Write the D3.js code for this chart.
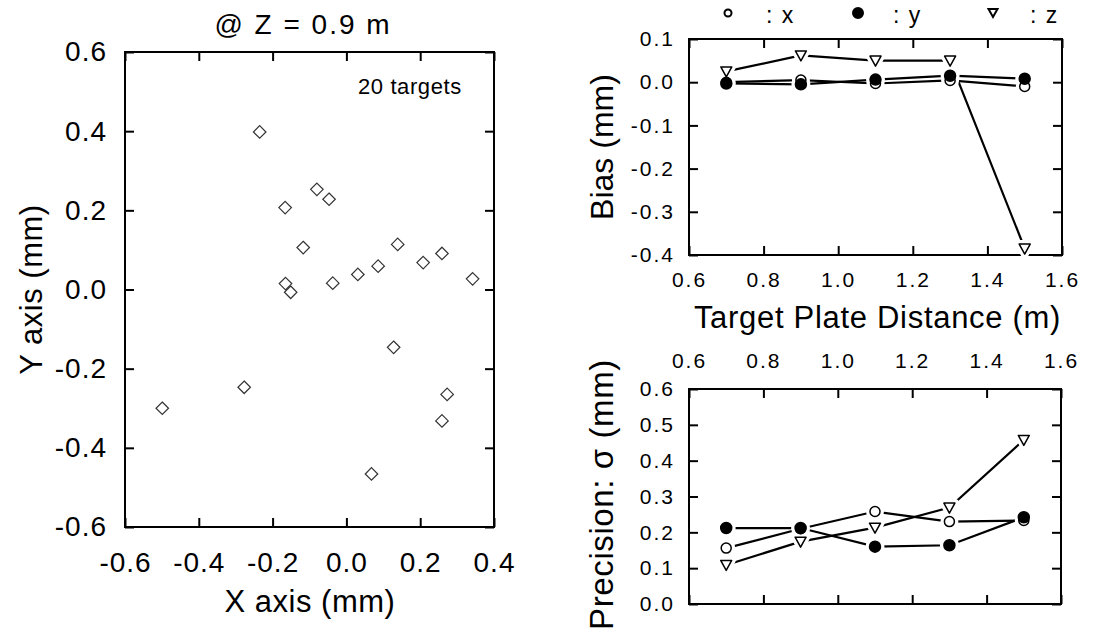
<!DOCTYPE html>
<html>
<head>
<meta charset="utf-8">
<style>
  body { margin: 0; background: #fff; }
  text { font-family: "Liberation Sans", Arial, sans-serif; fill: #000; }
</style>
</head>
<body>
<svg id="chart" width="1109" height="632"></svg>
<script src="https://cdn.jsdelivr.net/npm/d3@7"></script>
<script>
// scatter of 20 targets at Z = 0.9 m
let targetX = [-0.235, -0.166, -0.080, -0.047, -0.117, -0.165, -0.151, -0.037, 0.031, 0.086,
               0.139, 0.208, 0.259, 0.342, 0.128, -0.277, -0.499, 0.273, 0.259, 0.068]
let targetY = [0.398, 0.207, 0.253, 0.228, 0.106, 0.015, -0.007, 0.016, 0.038, 0.059,
               0.114, 0.068, 0.091, 0.027, -0.146, -0.247, -0.300, -0.265, -0.332, -0.466]

// target plate distance (m)
let distances = [0.7, 0.9, 1.1, 1.3, 1.5]
let biasX = [0.0, 0.005, -0.003, 0.004, -0.010]
let biasY = [-0.003, -0.005, 0.006, 0.015, 0.008]
let biasZ = [0.025, 0.062, 0.050, 0.050, -0.385]
let precX = [0.156, 0.210, 0.258, 0.230, 0.233]
let precY = [0.212, 0.212, 0.160, 0.164, 0.242]
let precZ = [0.109, 0.174, 0.213, 0.269, 0.458]

// tick labels
let scatterTicks = [-0.6, -0.4, -0.2, 0.0, 0.2, 0.4, 0.6]
let scatterXTicks = [-0.6, -0.4, -0.2, 0.0, 0.2, 0.4]
let distTicks = [0.6, 0.8, 1.0, 1.2, 1.4, 1.6]
let biasTicks = [0.1, 0.0, -0.1, -0.2, -0.3, -0.4]
let precTicks = [0.0, 0.1, 0.2, 0.3, 0.4, 0.5, 0.6]

let svg = d3.select("#chart")
let fmt = d => d.toFixed(1)
let TICK = 9

function frame(box) {
    svg.append("rect")
        .attr("x", box.x0).attr("y", box.y0)
        .attr("width", box.x1 - box.x0).attr("height", box.y1 - box.y0)
        .attr("fill", "none").attr("stroke", "#000").attr("stroke-width", 2)
}

function styleAxis(g, size, spacing) {
    g.select(".domain").remove()
    g.selectAll("line").attr("stroke", "#000").attr("stroke-width", 2)
    g.selectAll("text").style("font-size", size + "px")
        .style("letter-spacing", (spacing || 0) + "px").attr("fill", "#000")
    g.attr("font-family", null)
}

// ---------- left scatter ----------
let L = { x0: 125, x1: 494, y0: 52, y1: 527 }
let sx = d3.scaleLinear().domain([-0.6, 0.4]).range([L.x0, L.x1])
let sy = d3.scaleLinear().domain([-0.6, 0.6]).range([L.y1, L.y0])

svg.append("g").attr("transform", `translate(0,${L.y1})`)
    .call(d3.axisBottom(sx).tickValues(scatterXTicks).tickFormat(fmt).tickSize(-TICK).tickPadding(25))
    .call(g => styleAxis(g, 28, 1))
svg.append("g").attr("transform", `translate(0,${L.y0})`)
    .call(d3.axisTop(sx).tickValues(scatterXTicks).tickFormat("").tickSize(-TICK))
    .call(g => styleAxis(g, 28))
svg.append("g").attr("transform", `translate(${L.x0},0)`)
    .call(d3.axisLeft(sy).tickValues(scatterTicks).tickFormat(fmt).tickSize(-TICK).tickPadding(18))
    .call(g => styleAxis(g, 28, 1))
svg.append("g").attr("transform", `translate(${L.x1},0)`)
    .call(d3.axisRight(sy).tickValues(scatterTicks).tickFormat("").tickSize(-TICK))
    .call(g => styleAxis(g, 28))
frame(L)

let diamond = d3.symbol().type(d3.symbolDiamond2).size(100)
svg.append("g").selectAll("path")
    .data(targetX.map((x, i) => [x, targetY[i]]))
    .join("path")
    .attr("d", diamond)
    .attr("transform", d => `translate(${sx(d[0])},${sy(d[1])})`)
    .attr("fill", "none").attr("stroke", "#333").attr("stroke-width", 1.2)

svg.append("text").attr("x", 303).attr("y", 34).attr("text-anchor", "middle")
    .style("font-size", "28px").style("letter-spacing", "2px").text("@ Z = 0.9 m")
svg.append("text").attr("x", 358).attr("y", 94)
    .style("font-size", "22px").style("letter-spacing", "0.6px").text("20 targets")
svg.append("text").attr("x", 310).attr("y", 612).attr("text-anchor", "middle")
    .style("font-size", "31px").style("letter-spacing", "0.5px").text("X axis (mm)")
svg.append("text").attr("transform", `translate(42,${(L.y0 + L.y1) / 2}) rotate(-90)`)
    .attr("text-anchor", "middle").style("font-size", "31px").style("letter-spacing", "0.5px")
    .text("Y axis (mm)")

// ---------- series markers ----------
function marker(g, kind, cx, cy, halo) {
    if (kind === "z") {
        let pts = [[cx - 5.5, cy - 4.5], [cx + 5.5, cy - 4.5], [cx, cy + 5.5]]
        g.append("polygon").attr("points", pts.map(p => p.join(",")).join(" "))
            .attr("fill", "#fff").attr("stroke", halo ? "#fff" : "#000")
            .attr("stroke-width", halo ? 8 : 1.5).attr("stroke-linejoin", "round")
    } else {
        g.append("circle").attr("cx", cx).attr("cy", cy).attr("r", kind === "y" ? 5.5 : 5)
            .attr("fill", kind === "y" && !halo ? "#000" : "#fff")
            .attr("stroke", halo ? "#fff" : "#000").attr("stroke-width", halo ? 8 : 1.5)
    }
}

function seriesPlot(box, yDomain, series) {
    let x = d3.scaleLinear().domain([0.6, 1.6]).range([box.x0, box.x1])
    let y = d3.scaleLinear().domain(yDomain).range([box.y1, box.y0])
    let line = d3.line().x((d, i) => x(distances[i])).y(d => y(d))
    let gl = svg.append("g"), gh = svg.append("g"), gm = svg.append("g")
    series.forEach(s => {
        gl.append("path").attr("d", line(s.values)).attr("fill", "none")
            .attr("stroke", "#000").attr("stroke-width", 2.2)
        s.values.forEach((v, i) => marker(gh, s.kind, x(distances[i]), y(v), true))
    })
    series.forEach(s => s.values.forEach((v, i) => marker(gm, s.kind, x(distances[i]), y(v), false)))
    return { x, y }
}

// ---------- bias ----------
let B = { x0: 689, x1: 1062, y0: 39, y1: 255 }
let bsx = d3.scaleLinear().domain([0.6, 1.6]).range([B.x0, B.x1])
let bsy = d3.scaleLinear().domain([-0.4, 0.1]).range([B.y1, B.y0])
svg.append("g").attr("transform", `translate(0,${B.y1})`)
    .call(d3.axisBottom(bsx).tickValues(distTicks).tickFormat(fmt).tickSize(-TICK).tickPadding(17))
    .call(g => styleAxis(g, 21, 2))
svg.append("g").attr("transform", `translate(0,${B.y0})`)
    .call(d3.axisTop(bsx).tickValues(distTicks).tickFormat("").tickSize(-TICK))
    .call(g => styleAxis(g, 21))
svg.append("g").attr("transform", `translate(${B.x0},0)`)
    .call(d3.axisLeft(bsy).tickValues(biasTicks).tickFormat(fmt).tickSize(-TICK).tickPadding(14))
    .call(g => styleAxis(g, 21, 2))
svg.append("g").attr("transform", `translate(${B.x1},0)`)
    .call(d3.axisRight(bsy).tickValues(biasTicks).tickFormat("").tickSize(-TICK))
    .call(g => styleAxis(g, 21))
frame(B)
seriesPlot(B, [-0.4, 0.1], [
    { kind: "z", values: biasZ },
    { kind: "x", values: biasX },
    { kind: "y", values: biasY }
])
svg.append("text").attr("transform", `translate(613,${(B.y0 + B.y1) / 2}) rotate(-90)`)
    .attr("text-anchor", "middle").style("font-size", "32px").text("Bias (mm)")
svg.append("text").attr("x", (B.x0 + B.x1) / 2 + 2).attr("y", 328).attr("text-anchor", "middle")
    .style("font-size", "31px").style("letter-spacing", "0.7px").text("Target Plate Distance (m)")

// ---------- precision ----------
let P = { x0: 689, x1: 1061, y0: 389, y1: 604 }
let psx = d3.scaleLinear().domain([0.6, 1.6]).range([P.x0, P.x1])
let psy = d3.scaleLinear().domain([0, 0.6]).range([P.y1, P.y0])
svg.append("g").attr("transform", `translate(0,${P.y0})`)
    .call(d3.axisTop(psx).tickValues(distTicks).tickFormat(fmt).tickSize(-TICK).tickPadding(21))
    .call(g => styleAxis(g, 21, 2))
svg.append("g").attr("transform", `translate(0,${P.y1})`)
    .call(d3.axisBottom(psx).tickValues(distTicks).tickFormat("").tickSize(-TICK))
    .call(g => styleAxis(g, 21))
svg.append("g").attr("transform", `translate(${P.x0},0)`)
    .call(d3.axisLeft(psy).tickValues(precTicks).tickFormat(fmt).tickSize(-TICK).tickPadding(14))
    .call(g => styleAxis(g, 21, 2))
svg.append("g").attr("transform", `translate(${P.x1},0)`)
    .call(d3.axisRight(psy).tickValues(precTicks).tickFormat("").tickSize(-TICK))
    .call(g => styleAxis(g, 21))
frame(P)
seriesPlot(P, [0, 0.6], [
    { kind: "z", values: precZ },
    { kind: "x", values: precX },
    { kind: "y", values: precY }
])
svg.append("text").attr("transform", `translate(613,${(P.y0 + P.y1) / 2 - 2}) rotate(-90)`)
    .attr("text-anchor", "middle").style("font-size", "33px").style("letter-spacing", "0.6px")
    .text("Precision: σ (mm)")

// ---------- legend ----------
let legendItems = [
    { kind: "x", label: "x", cx: 728, tx: 766 },
    { kind: "y", label: "y", cx: 858, tx: 893 },
    { kind: "z", label: "z", cx: 993, tx: 1030 }
]
let lg = svg.append("g")
legendItems.forEach(d => {
    if (d.kind === "z") {
        lg.append("polygon")
            .attr("points", [[d.cx - 4.5, 9], [d.cx + 4.5, 9], [d.cx, 17]].map(p => p.join(",")).join(" "))
            .attr("fill", "#fff").attr("stroke", "#000").attr("stroke-width", 2)
    } else {
        lg.append("circle").attr("cx", d.cx).attr("cy", 13).attr("r", d.kind === "y" ? 5 : 3.5)
            .attr("fill", d.kind === "y" ? "#000" : "#fff").attr("stroke", "#000").attr("stroke-width", 2)
    }
    lg.append("text").attr("x", d.tx).attr("y", 23).style("font-size", "23px")
        .style("letter-spacing", "1.5px").text(": " + d.label)
})
</script>
</body>
</html>
